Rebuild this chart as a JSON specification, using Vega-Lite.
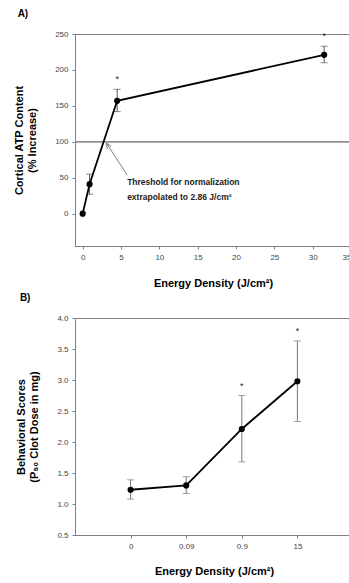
{
  "$schema": "https://vega.github.io/schema/vega-lite/v6.json",
  "padding": {"left": 13, "top": 8, "right": 0, "bottom": 0},
  "spacing": 3,
  "config": {
    "font": "Liberation Sans",
    "view": {"stroke": "#808080", "strokeWidth": 1},
    "axis": {"grid": false, "domainColor": "#808080", "tickColor": "#808080", "tickSize": 3, "labelFontSize": 8, "labelColor": "#444444", "labelFont": "Liberation Sans", "titleFont": "Liberation Sans", "titleFontSize": 11, "titleFontWeight": "bold", "titleColor": "#000000", "labelPadding": 4, "labelOverlap": false},
    "title": {"anchor": "start", "fontSize": 10, "fontWeight": "bold", "frame": "bounds", "offset": 11, "dx": 4}
  },
  "datasets": {
    "atp": [
      {"energy": 0, "atp": 0, "lo": null, "hi": null, "star": ""},
      {"energy": 0.9, "atp": 41, "lo": 27, "hi": 55, "star": ""},
      {"energy": 4.5, "atp": 157, "lo": 142, "hi": 173, "star": "*"},
      {"energy": 31.5, "atp": 221, "lo": 210, "hi": 233, "star": "*"}
    ],
    "arrow": [{"energy": 5.8, "atp": 54, "energy2": 3.1, "atp2": 98}],
    "note": [
      {"energy": 5.8, "atp": 44, "text": "Threshold for normalization"},
      {"energy": 5.8, "atp": 23, "text": "extrapolated to 2.86 J/cm²"}
    ],
    "behav": [
      {"dose": "0", "score": 1.23, "lo": 1.08, "hi": 1.39, "star": ""},
      {"dose": "0.09", "score": 1.30, "lo": 1.17, "hi": 1.44, "star": ""},
      {"dose": "0.9", "score": 2.21, "lo": 1.68, "hi": 2.75, "star": "*"},
      {"dose": "15", "score": 2.98, "lo": 2.33, "hi": 3.63, "star": "*"}
    ]
  },
  "vconcat": [
    {
      "title": "A)",
      "width": 276,
      "height": 212,
      "encoding": {
        "x": {"field": "energy", "type": "quantitative", "title": "Energy Density (J/cm²)", "scale": {"domain": [-1, 35], "nice": false, "zero": false}, "axis": {"values": [0, 5, 10, 15, 20, 25, 30, 35], "titlePadding": 16, "labelOverlap": false}}
      },
      "layer": [
        {
          "data": {"name": "atp"},
          "mark": {"type": "rule", "color": "#909090", "strokeWidth": 1},
          "encoding": {
            "x": null,
            "y": {"datum": 100, "type": "quantitative", "title": ["Cortical ATP Content", "(% Increase)"], "scale": {"domain": [-45, 250], "nice": false, "zero": false}, "axis": {"values": [0, 50, 100, 150, 200, 250], "titlePadding": 17, "labelOverlap": false}}
          }
        },
        {
          "data": {"name": "atp"},
          "transform": [{"filter": "datum.lo != null"}],
          "mark": {"type": "errorbar", "color": "#555555", "thickness": 1, "ticks": {"size": 7, "thickness": 1, "color": "#555555"}},
          "encoding": {
            "y": {"field": "lo", "type": "quantitative", "title": ["Cortical ATP Content", "(% Increase)"]},
            "y2": {"field": "hi"}
          }
        },
        {
          "data": {"name": "atp"},
          "mark": {"type": "line", "color": "#000000", "strokeWidth": 1.8},
          "encoding": {
            "y": {"field": "atp", "type": "quantitative", "title": ["Cortical ATP Content", "(% Increase)"]}
          }
        },
        {
          "data": {"name": "atp"},
          "mark": {"type": "point", "filled": true, "color": "#000000", "size": 38, "opacity": 1},
          "encoding": {
            "y": {"field": "atp", "type": "quantitative", "title": ["Cortical ATP Content", "(% Increase)"]}
          }
        },
        {
          "data": {"name": "atp"},
          "transform": [{"filter": "datum.star != ''"}],
          "mark": {"type": "text", "fontSize": 9, "dy": -5, "baseline": "bottom", "color": "#222222"},
          "encoding": {
            "y": {"field": "hi", "type": "quantitative", "title": ["Cortical ATP Content", "(% Increase)"]},
            "text": {"field": "star"}
          }
        },
        {
          "data": {"name": "arrow"},
          "mark": {"type": "rule", "color": "#808080", "strokeWidth": 1},
          "encoding": {
            "y": {"field": "atp", "type": "quantitative", "title": ["Cortical ATP Content", "(% Increase)"]},
            "x2": {"field": "energy2"},
            "y2": {"field": "atp2"}
          }
        },
        {
          "data": {"name": "arrow"},
          "mark": {"type": "point", "shape": "M-0.5,1.1L0,0L0.5,1.1", "filled": false, "stroke": "#808080", "strokeWidth": 1, "size": 90, "angle": 328, "opacity": 1},
          "encoding": {
            "x": {"field": "energy2", "type": "quantitative", "title": "Energy Density (J/cm²)"},
            "y": {"field": "atp2", "type": "quantitative", "title": ["Cortical ATP Content", "(% Increase)"]}
          }
        },
        {
          "data": {"name": "note"},
          "mark": {"type": "text", "align": "left", "baseline": "middle", "fontSize": 8.5, "fontWeight": "bold", "color": "#222222"},
          "encoding": {
            "y": {"field": "atp", "type": "quantitative", "title": ["Cortical ATP Content", "(% Increase)"]},
            "text": {"field": "text"}
          }
        }
      ]
    },
    {
      "title": "B)",
      "width": 278,
      "height": 217,
      "data": {"name": "behav"},
      "encoding": {
        "x": {"field": "dose", "type": "nominal", "sort": ["0", "0.09", "0.9", "15"], "title": "Energy Density (J/cm²)", "scale": {"type": "point", "padding": 1}, "axis": {"labelAngle": 0, "titlePadding": 15}},
        "y": {"field": "score", "type": "quantitative", "title": ["Behavioral Scores", "(P₅₀ Clot Dose in mg)"], "scale": {"domain": [0.5, 4], "nice": false, "zero": false}, "axis": {"values": [0.5, 1, 1.5, 2, 2.5, 3, 3.5, 4], "format": ".1f", "titlePadding": 17, "labelOverlap": false}}
      },
      "layer": [
        {
          "mark": {"type": "errorbar", "color": "#777777", "thickness": 1, "ticks": {"size": 7, "thickness": 1, "color": "#777777"}},
          "encoding": {
            "y": {"field": "lo", "type": "quantitative", "title": ["Behavioral Scores", "(P₅₀ Clot Dose in mg)"]},
            "y2": {"field": "hi"}
          }
        },
        {
          "mark": {"type": "line", "color": "#000000", "strokeWidth": 1.8}
        },
        {
          "mark": {"type": "point", "filled": true, "color": "#000000", "size": 38, "opacity": 1}
        },
        {
          "transform": [{"filter": "datum.star != ''"}],
          "mark": {"type": "text", "fontSize": 9, "dy": -5, "baseline": "bottom", "color": "#222222"},
          "encoding": {
            "y": {"field": "hi", "type": "quantitative", "title": ["Behavioral Scores", "(P₅₀ Clot Dose in mg)"]},
            "text": {"field": "star"}
          }
        }
      ]
    }
  ]
}
